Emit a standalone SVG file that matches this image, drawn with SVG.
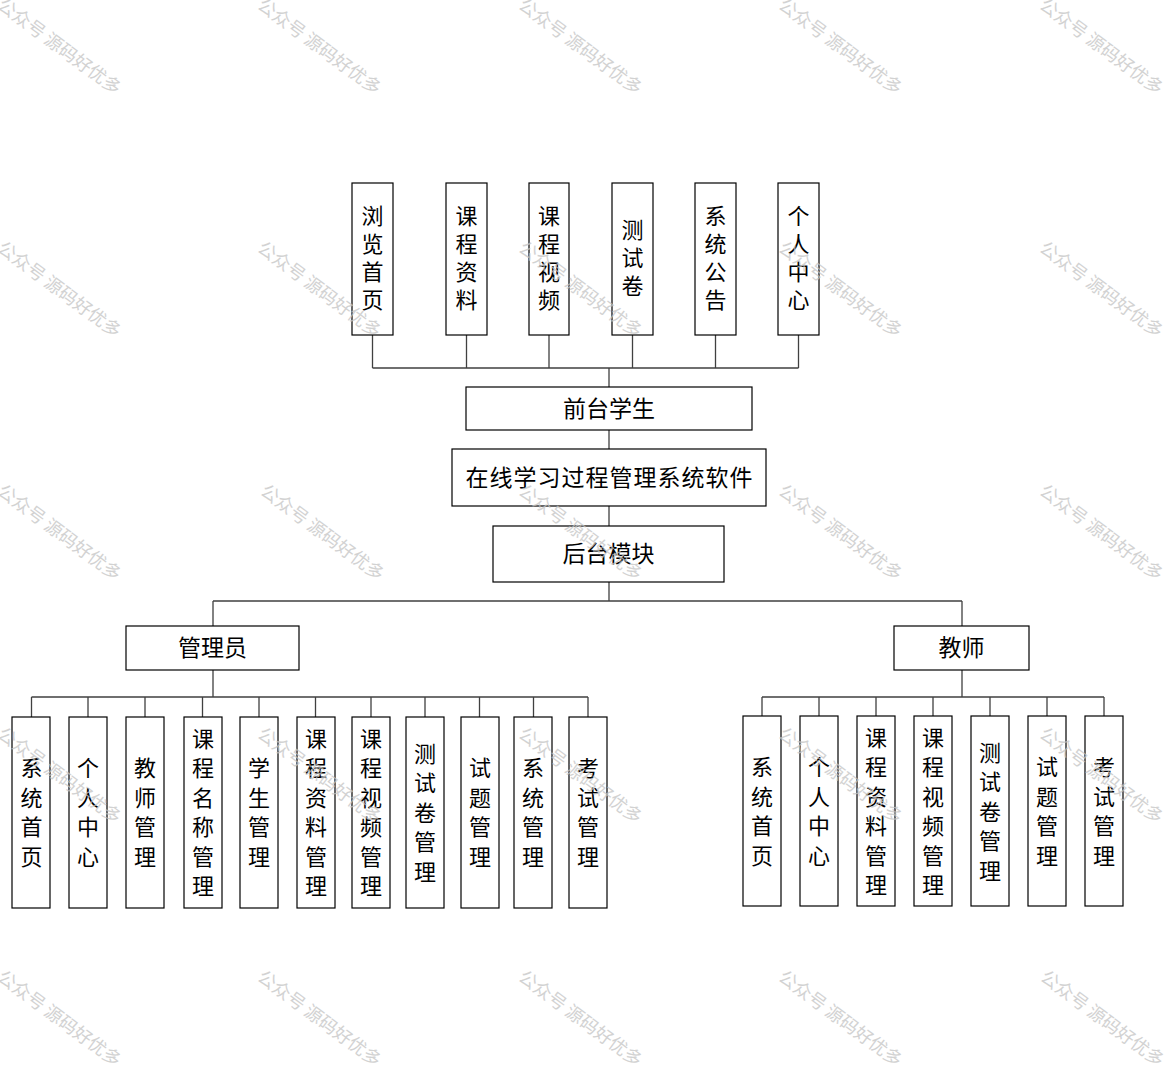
<svg xmlns="http://www.w3.org/2000/svg" width="1169" height="1071" viewBox="0 0 1169 1071">
<style>
.bg{fill:#ffffff}
.box{fill:#ffffff;stroke:#000000;stroke-width:1.2}
.ln{fill:none;stroke:#404040;stroke-width:1.3}
.t{font-family:"Noto Sans CJK SC","Noto Sans",sans-serif;font-size:22px;fill:#000000;text-anchor:middle;dominant-baseline:central}
.h{font-size:23px}
.v{font-family:"Noto Sans CJK SC","Noto Sans",sans-serif;font-size:22px;fill:#000000;text-anchor:middle;writing-mode:vertical-rl;text-orientation:upright}
.v1{letter-spacing:6px}
.v2{letter-spacing:7.5px}
.wm{font-family:"Noto Sans CJK SC","Noto Sans",sans-serif;font-size:18px;fill:#c4c4c4;opacity:0.75}
</style>
<rect class="bg" x="0" y="0" width="1169" height="1071"/>
<g id="connectors">
<path class="ln" d="M372.5 335V368M466.5 335V368M549 335V368M632.5 335V368M715.5 335V368M798.5 335V368M372.5 368H798.5M609 368V387"/>
<path class="ln" d="M609 430V449M609 506V526M609 582V601M213 601H962M213 601V626M962 601V626"/>
<path class="ln" d="M213 670V697M31.5 697H588M31.5 697V717M88 697V717M145 697V717M202.5 697V717M259 697V717M315.5 697V717M371 697V717M425 697V717M479.5 697V717M533.5 697V717M588 697V717"/>
<path class="ln" d="M962 670V697M762 697H1104M762 697V716M819 697V716M876 697V716M933 697V716M990 697V716M1047 697V716M1104 697V716"/>
</g>
<g id="top-browse"><rect class="box" x="352" y="183" width="41" height="152"/><text class="v v1" x="372.5" y="261">浏览首页</text></g>
<g id="top-material"><rect class="box" x="446" y="183" width="41" height="152"/><text class="v v1" x="466.5" y="261">课程资料</text></g>
<g id="top-video"><rect class="box" x="529" y="183" width="40" height="152"/><text class="v v1" x="549" y="261">课程视频</text></g>
<g id="top-test"><rect class="box" x="612" y="183" width="41" height="152"/><text class="v v1" x="632.5" y="261">测试卷</text></g>
<g id="top-notice"><rect class="box" x="695" y="183" width="41" height="152"/><text class="v v1" x="715.5" y="261">系统公告</text></g>
<g id="top-personal"><rect class="box" x="778" y="183" width="41" height="152"/><text class="v v1" x="798.5" y="261">个人中心</text></g>
<g id="front-student"><rect class="box" x="466" y="387" width="286" height="43"/><text class="t h" x="609" y="406.5">前台学生</text></g>
<g id="system"><rect class="box" x="452" y="449" width="314" height="57"/><text class="t h" x="609.5" y="475.5" letter-spacing="1">在线学习过程管理系统软件</text></g>
<g id="backend"><rect class="box" x="493" y="526" width="231" height="56"/><text class="t h" x="608.5" y="552">后台模块</text></g>
<g id="admin"><rect class="box" x="126" y="626" width="173" height="44"/><text class="t h" x="212.5" y="646">管理员</text></g>
<g id="teacher"><rect class="box" x="894" y="626" width="135" height="44"/><text class="t h" x="961.5" y="646">教师</text></g>
<g id="a-home"><rect class="box" x="12" y="717" width="38" height="191"/><text class="v v2" x="31.5" y="816">系统首页</text></g>
<g id="a-personal"><rect class="box" x="69" y="717" width="38" height="191"/><text class="v v2" x="88" y="816">个人中心</text></g>
<g id="a-teacher"><rect class="box" x="126" y="717" width="38" height="191"/><text class="v v2" x="145" y="816">教师管理</text></g>
<g id="a-course"><rect class="box" x="184" y="717" width="38" height="191"/><text class="v v2" x="203" y="816">课程名称管理</text></g>
<g id="a-student"><rect class="box" x="240" y="717" width="38" height="191"/><text class="v v2" x="259" y="816">学生管理</text></g>
<g id="a-material"><rect class="box" x="297" y="717" width="38" height="191"/><text class="v v2" x="316" y="816">课程资料管理</text></g>
<g id="a-video"><rect class="box" x="352" y="717" width="38" height="191"/><text class="v v2" x="371" y="816">课程视频管理</text></g>
<g id="a-test"><rect class="box" x="406" y="717" width="38" height="191"/><text class="v v2" x="425" y="816">测试卷管理</text></g>
<g id="a-question"><rect class="box" x="461" y="717" width="38" height="191"/><text class="v v2" x="480" y="816">试题管理</text></g>
<g id="a-system"><rect class="box" x="514" y="717" width="38" height="191"/><text class="v v2" x="533" y="816">系统管理</text></g>
<g id="a-exam"><rect class="box" x="569" y="717" width="38" height="191"/><text class="v v2" x="588" y="816">考试管理</text></g>
<g id="t-home"><rect class="box" x="743" y="716" width="38" height="190"/><text class="v v2" x="762" y="815">系统首页</text></g>
<g id="t-personal"><rect class="box" x="800" y="716" width="38" height="190"/><text class="v v2" x="819" y="815">个人中心</text></g>
<g id="t-material"><rect class="box" x="857" y="716" width="38" height="190"/><text class="v v2" x="876" y="815">课程资料管理</text></g>
<g id="t-video"><rect class="box" x="914" y="716" width="38" height="190"/><text class="v v2" x="933" y="815">课程视频管理</text></g>
<g id="t-test"><rect class="box" x="971" y="716" width="38" height="190"/><text class="v v2" x="990" y="815">测试卷管理</text></g>
<g id="t-question"><rect class="box" x="1028" y="716" width="38" height="190"/><text class="v v2" x="1047" y="815">试题管理</text></g>
<g id="t-exam"><rect class="box" x="1085" y="716" width="38" height="190"/><text class="v v2" x="1104" y="815">考试管理</text></g>
<g id="watermark">
<defs><text id="wm" class="wm" x="-9" y="6">公众号 源码好优多</text></defs>
<use href="#wm" transform="translate(7,8) rotate(36.5)"/>
<use href="#wm" transform="translate(267,8) rotate(36.5)"/>
<use href="#wm" transform="translate(528,8) rotate(36.5)"/>
<use href="#wm" transform="translate(788,8) rotate(36.5)"/>
<use href="#wm" transform="translate(1049,8) rotate(36.5)"/>
<use href="#wm" transform="translate(7,251) rotate(36.5)"/>
<use href="#wm" transform="translate(267,251) rotate(36.5)"/>
<use href="#wm" transform="translate(528,251) rotate(36.5)"/>
<use href="#wm" transform="translate(788,251) rotate(36.5)"/>
<use href="#wm" transform="translate(1049,251) rotate(36.5)"/>
<use href="#wm" transform="translate(7,494) rotate(36.5)"/>
<use href="#wm" transform="translate(270,494) rotate(36.5)"/>
<use href="#wm" transform="translate(528,494) rotate(36.5)"/>
<use href="#wm" transform="translate(788,494) rotate(36.5)"/>
<use href="#wm" transform="translate(1049,494) rotate(36.5)"/>
<use href="#wm" transform="translate(7,737) rotate(36.5)"/>
<use href="#wm" transform="translate(267,737) rotate(36.5)"/>
<use href="#wm" transform="translate(528,737) rotate(36.5)"/>
<use href="#wm" transform="translate(788,737) rotate(36.5)"/>
<use href="#wm" transform="translate(1049,737) rotate(36.5)"/>
<use href="#wm" transform="translate(7,980) rotate(36.5)"/>
<use href="#wm" transform="translate(267,980) rotate(36.5)"/>
<use href="#wm" transform="translate(528,980) rotate(36.5)"/>
<use href="#wm" transform="translate(788,980) rotate(36.5)"/>
<use href="#wm" transform="translate(1050,980) rotate(36.5)"/>
</g>
</svg>
